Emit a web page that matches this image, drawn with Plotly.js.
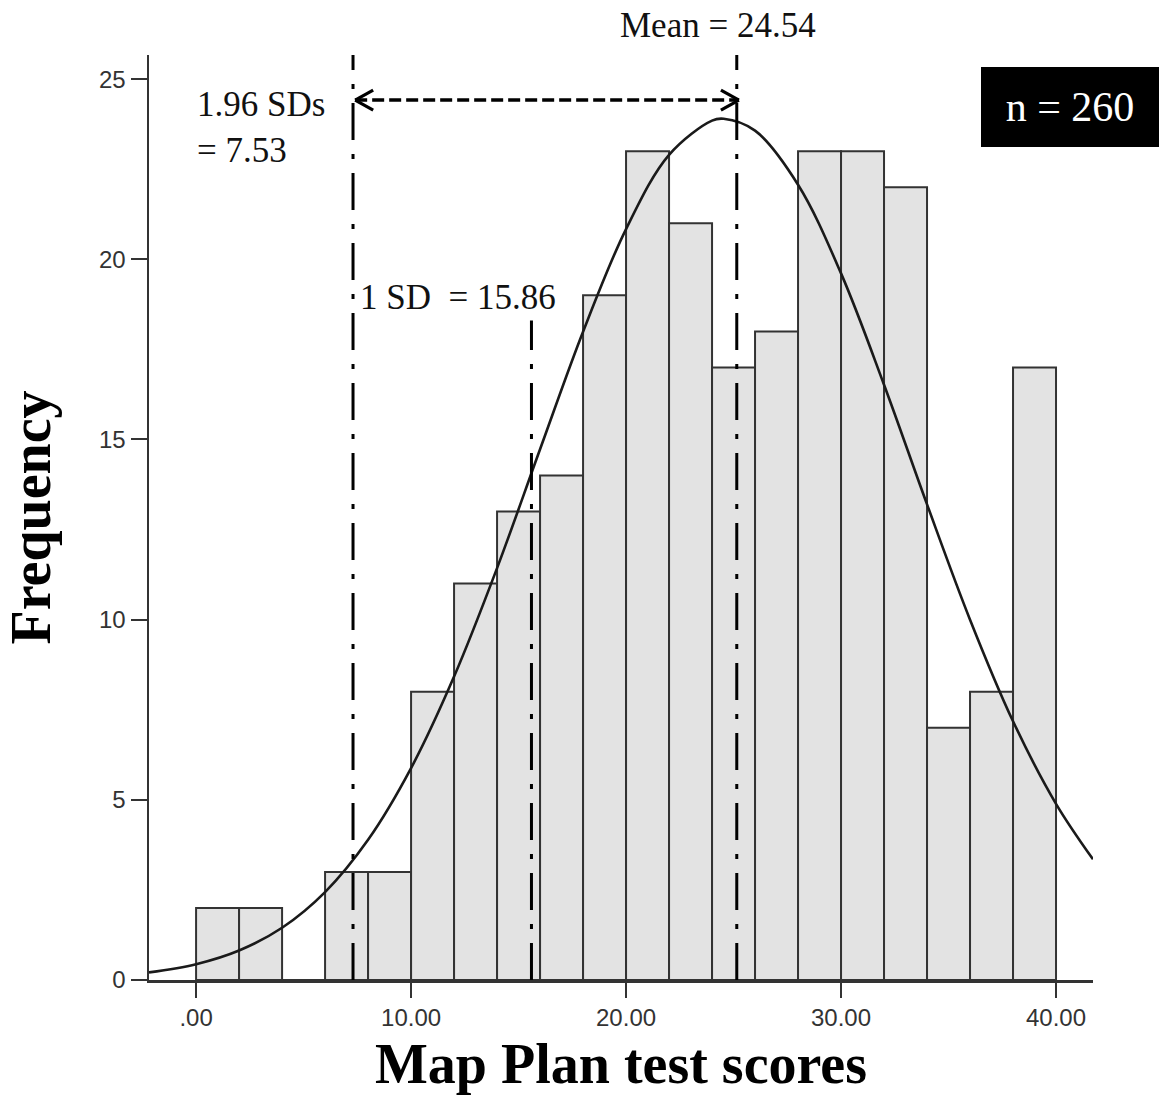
<!DOCTYPE html>
<html>
<head>
<meta charset="utf-8">
<script src="https://cdn.plot.ly/plotly-3.0.1.min.js"></script>
<style>html,body{margin:0;padding:0;background:#fff;}#chart{width:1159px;height:1102px;}</style>
</head>
<body>
<div id="chart"></div>
<script>
// ---- data ----
const binLeft = [0, 2, 4, 6, 8, 10, 12, 14, 16, 18, 20, 22, 24, 26, 28, 30, 32, 34, 36, 38];
const counts  = [2, 2, 0, 3, 3, 8, 11, 13, 14, 19, 23, 21, 17, 18, 23, 23, 22, 7, 8, 17];
const binWidth = 2;

// fitted normal curve
const curveX = [-2.19, 0, 2, 4, 6, 8, 10, 12, 14, 16, 18, 20, 22, 24, 24.54, 26, 28, 30, 32, 34, 36, 38, 40, 41.72];
const curveY = [0.21, 0.44, 0.82, 1.45, 2.44, 3.89, 5.88, 8.42, 11.43, 14.73, 17.99, 20.84, 22.9, 23.85, 23.9, 23.57, 22.07, 19.61, 16.52, 13.2, 10.0, 7.18, 4.89, 3.35];

// reference lines (1.96 SD, 1 SD, mean) as drawn
const refLineX   = [7.3, 15.6, 25.15];
const refLineTop = [25.67, 18.3, 25.67];
const arrowX = [7.4, 25.25];
const arrowY = 24.42;

const xTickVals = [0, 10, 20, 30, 40];
const xTickText = ['.00', '10.00', '20.00', '30.00', '40.00'];
const yTickVals = [0, 5, 10, 15, 20, 25];

const labelMean = 'Mean = 24.54';
const label196 = '1.96 SDs<br>= 7.53';
const label1SD = '1 SD\u00a0 = 15.86';
const labelN = 'n = 260';
const xTitle = 'Map Plan test scores';
const yTitle = 'Frequency';

const serif = 'Liberation Serif, Times New Roman, serif';
const sans = 'Liberation Sans, Arial, sans-serif';

const traces = [
  {
    type: 'bar', x: binLeft, y: counts, width: binWidth, offset: 0,
    marker: {color: '#e3e3e3', line: {color: '#333333', width: 2}},
    hoverinfo: 'x+y', showlegend: false
  },
  {
    type: 'scatter', mode: 'lines', x: curveX, y: curveY,
    line: {color: '#1a1a1a', width: 2.6, shape: 'spline', smoothing: 1},
    showlegend: false, cliponaxis: true
  }
];

const dashDot = '37px,14px,5px,14px';
const shapes = [];
refLineX.forEach((xv, i) => {
  shapes.push({type: 'line', xref: 'x', yref: 'y', x0: xv, x1: xv, y0: 0, y1: refLineTop[i],
    line: {color: '#000', width: 3, dash: dashDot}});
});
// dashed double arrow
shapes.push({type: 'line', xref: 'x', yref: 'y', x0: arrowX[0], x1: arrowX[1], y0: arrowY, y1: arrowY,
  line: {color: '#000', width: 3.5, dash: '12px,5px'}});
// arrow heads (open chevrons)
[[arrowX[0], 1], [arrowX[1], -1]].forEach(([ax, dir]) => {
  [10, -10].forEach(dy => {
    shapes.push({type: 'line', xref: 'x', yref: 'y', xsizemode: 'pixel', ysizemode: 'pixel',
      xanchor: ax, yanchor: arrowY, x0: 0, x1: 18 * dir, y0: 0, y1: dy,
      line: {color: '#000', width: 3.2}});
  });
});

const annotations = [
  {text: labelMean, xref: 'x', yref: 'paper', x: 24.28, y: 1.0324, xanchor: 'center', yanchor: 'middle',
   showarrow: false, font: {family: serif, size: 35, color: '#111'}},
  {text: label196, xref: 'x', yref: 'y', x: -0.05, y: 23.66, xanchor: 'left', yanchor: 'middle', align: 'left',
   showarrow: false, font: {family: serif, size: 35, color: '#111'}},
  {text: label1SD, xref: 'x', yref: 'y', x: 7.53, y: 18.93, xanchor: 'left', yanchor: 'middle', align: 'left',
   showarrow: false, font: {family: serif, size: 35, color: '#111'}},
  {text: labelN, xref: 'paper', yref: 'paper', x: 0.8814, y: 0.987, xanchor: 'left', yanchor: 'top',
   width: 178, height: 80, bgcolor: '#000', borderpad: 0, borderwidth: 0, align: 'center', valign: 'middle',
   showarrow: false, font: {family: serif, size: 42, color: '#fff'}}
];

const layout = {
  width: 1159, height: 1102,
  margin: {l: 149, r: 66, t: 55, b: 122, pad: 0},
  paper_bgcolor: '#fff', plot_bgcolor: '#fff',
  bargap: 0,
  xaxis: {
    range: [-2.19, 41.72], tickvals: xTickVals, ticktext: xTickText,
    showgrid: false, zeroline: false, showline: true, linecolor: '#333', linewidth: 2.5,
    ticks: 'outside', ticklen: 15, tickwidth: 2, tickcolor: '#333',
    tickfont: {family: sans, size: 24, color: '#333'},
    title: {text: xTitle, font: {family: serif, size: 56, color: '#000', weight: 'bold'}, standoff: 14}
  },
  yaxis: {
    range: [0, 25.67], tickvals: yTickVals,
    showgrid: false, zeroline: false, showline: true, linecolor: '#333', linewidth: 2.5,
    ticks: 'outside', ticklen: 16, tickwidth: 2, tickcolor: '#333',
    tickfont: {family: sans, size: 24, color: '#333'},
    title: {text: yTitle, font: {family: serif, size: 56, color: '#000', weight: 'bold'}, standoff: 36}
  },
  shapes: shapes,
  annotations: annotations,
  showlegend: false
};

Plotly.newPlot('chart', traces, layout, {displayModeBar: false, staticPlot: true});
</script>
</body>
</html>
